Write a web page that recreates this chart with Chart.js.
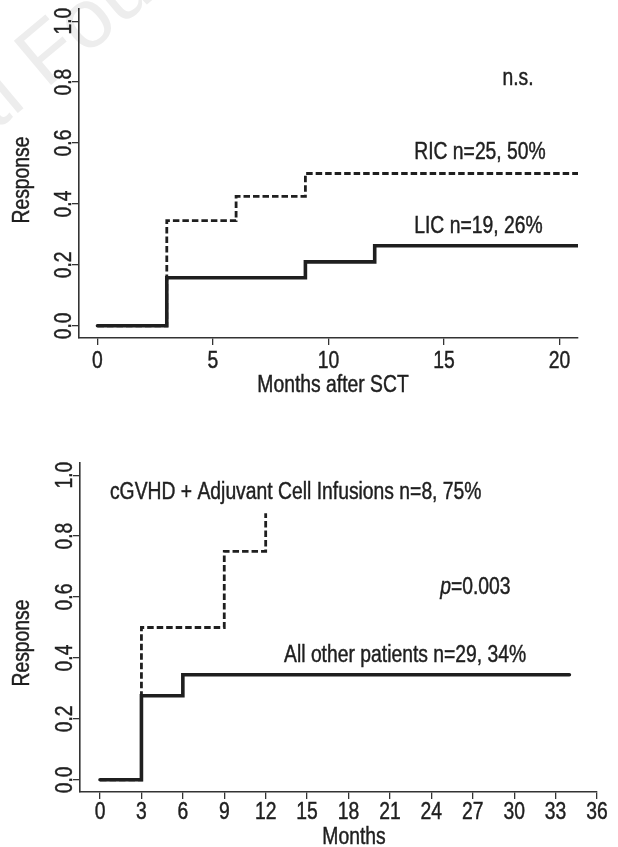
<!DOCTYPE html>
<html>
<head>
<meta charset="utf-8">
<script src="https://cdn.jsdelivr.net/npm/chart.js@4.4.0/dist/chart.umd.min.js"></script>
<style>
  html, body { margin: 0; padding: 0; background: #fff; }
  body { width: 618px; height: 847px; position: relative; overflow: hidden; }
  canvas { position: absolute; left: 0; }
</style>
</head>
<body>
<canvas id="c1" width="618" height="410" style="top:0"></canvas>
<canvas id="c2" width="618" height="437" style="top:410px"></canvas>
<script>
// ---------- data: top panel (Months after SCT) ----------
const topXTicks = [0, 5, 10, 15, 20];
const licMonths = [0, 3, 9, 12, 20.8];
const licResponse = [0, 0.158, 0.21, 0.263, 0.263];
const ricMonths = [0, 3, 6, 9, 20.8];
const ricResponse = [0, 0.345, 0.425, 0.5, 0.5];

// ---------- data: bottom panel (Months) ----------
const botXTicks = [0, 3, 6, 9, 12, 15, 18, 21, 24, 27, 30, 33, 36];
const otherMonths = [0, 3, 6, 34];
const otherResponse = [0, 0.276, 0.345, 0.345];
const cgvhdMonths = [0, 3, 9, 12];
const cgvhdResponse = [0, 0.5, 0.75, 0.875];

// ---------- shared y ticks ----------
const yTicks = [0, 0.2, 0.4, 0.6, 0.8, 1.0];
const yTickLabels = ['0.0', '0.2', '0.4', '0.6', '0.8', '1.0'];

const FONT = "'Liberation Sans', Arial, sans-serif";
const SX = 0.84;          // horizontal condensing of the sans font
const INK = '#1f1f1f';
const AXIS = '#333333';

function pts(xs, ys) { return xs.map((x, i) => ({ x: x, y: ys[i] })); }

// draw condensed text; returns advance width
function ctext(ctx, str, x, y, size, align, italic, rot) {
  ctx.save();
  ctx.font = (italic ? 'italic ' : '') + size + 'px ' + FONT;
  const w = ctx.measureText(str).width * SX;
  ctx.translate(x, y);
  if (rot) ctx.rotate(rot);
  let off = 0;
  if (align === 'center') off = -w / 2;
  else if (align === 'right') off = -w;
  ctx.translate(off, 0);
  ctx.scale(SX, 1);
  ctx.textAlign = 'left';
  ctx.textBaseline = 'alphabetic';
  ctx.fillStyle = INK;
  ctx.strokeStyle = INK;
  ctx.lineWidth = 0.45;
  ctx.fillText(str, 0, 0);
  ctx.strokeText(str, 0, 0);
  ctx.restore();
  return w;
}

const textPlugin = {
  id: 'rtext',
  beforeDraw(chart, args, o) {
    if (!o.watermark) return;
    const ctx = chart.ctx;
    ctx.save();
    const fs = 84;
    ctx.font = fs + "px 'Liberation Sans', sans-serif";
    ctx.fillStyle = '#ededed';
    const th = 40 * Math.PI / 180;
    const d = [Math.cos(th), -Math.sin(th)], u = [-Math.sin(th), -Math.cos(th)];
    const wp = ctx.measureText('Storti ').width, wF = ctx.measureText('F').width;
    const capH = 0.716 * fs;
    const cx = 46, cy = 50;
    const ox = cx - (wp + wF / 2) * d[0] - (capH / 2) * u[0];
    const oy = cy - (wp + wF / 2) * d[1] - (capH / 2) * u[1];
    ctx.translate(ox, oy);
    ctx.rotate(-th);
    ctx.fillText('Storti Foundation', 0, 0);
    ctx.restore();
  },
  afterDraw(chart, args, o) {
    const ctx = chart.ctx;
    const xs = chart.scales.x, ys = chart.scales.y;
    const ca = chart.chartArea;
    ctx.save();
    // x tick labels
    o.xTicks.forEach(v => ctext(ctx, String(v), xs.getPixelForValue(v), ca.bottom + o.xLabelGap, o.tickFont, 'center'));
    // y tick labels (rotated)
    yTicks.forEach((v, i) => ctext(ctx, yTickLabels[i], ca.left - 8, ys.getPixelForValue(v), o.tickFont, 'center', false, -Math.PI / 2));
    // axis titles
    ctext(ctx, o.xTitle, o.xTitleX, ca.bottom + o.xTitleGap, o.textFont, 'center');
    ctext(ctx, 'Response', 29, o.yTitleY, o.textFont, 'center', false, -Math.PI / 2);
    // annotations
    o.notes.forEach(n => {
      let x = xs.getPixelForValue(n.x);
      const y = ys.getPixelForValue(n.y);
      n.parts.forEach(p => { x += ctext(ctx, p.t, x, y, o.textFont, 'left', p.italic); });
    });
    ctx.restore();
  }
};

function lineDs(data, dashed) {
  return {
    data: data,
    stepped: 'before',
    borderColor: INK,
    borderWidth: dashed ? 2.8 : 3.6,
    borderDash: dashed ? [6.5, 3] : [],
    borderCapStyle: dashed ? 'butt' : 'round',
    borderJoinStyle: 'miter',
    pointRadius: 0,
    fill: false,
    tension: 0
  };
}

function makeChart(id, cfg) {
  return new Chart(document.getElementById(id), {
    type: 'line',
    data: { datasets: cfg.datasets },
    plugins: [textPlugin],
    options: {
      responsive: false,
      animation: false,
      devicePixelRatio: 1,
      layout: { padding: cfg.padding },
      plugins: {
        legend: { display: false },
        tooltip: { enabled: false },
        rtext: cfg.text
      },
      scales: {
        x: {
          type: 'linear',
          min: cfg.xMin, max: cfg.xMax,
          afterBuildTicks: s => { s.ticks = cfg.text.xTicks.map(v => ({ value: v })); },
          afterFit: s => { s.height = cfg.xHeight; },
          ticks: { display: false },
          grid: { display: true, drawOnChartArea: false, drawTicks: true, tickLength: 7, color: AXIS, lineWidth: 1.3 },
          border: { display: true, color: AXIS, width: 1.6 }
        },
        y: {
          type: 'linear',
          min: -0.04, max: 1.04,
          afterBuildTicks: s => { s.ticks = yTicks.map(v => ({ value: v })); },
          afterFit: s => { s.width = cfg.yWidth; },
          ticks: { display: false },
          grid: { display: true, drawOnChartArea: false, drawTicks: true, tickLength: 7, color: AXIS, lineWidth: 1.3 },
          border: { display: true, color: AXIS, width: 1.6 }
        }
      }
    }
  });
}

makeChart('c1', {
  datasets: [lineDs(pts(licMonths, licResponse), false), lineDs(pts(ricMonths, ricResponse), true)],
  padding: { left: 0, right: 40, top: 9, bottom: 0 },
  xMin: -0.8, xMax: 20.8,
  xHeight: 72, yWidth: 79,
  text: {
    watermark: true,
    xTicks: topXTicks,
    tickFont: 23, textFont: 23,
    xLabelGap: 30, xTitleGap: 54, xTitle: 'Months after SCT', xTitleX: 333, yTitleY: 180,
    notes: [
      { x: 17.53, y: 0.79, parts: [{ t: 'n.s.' }] },
      { x: 13.71, y: 0.548, parts: [{ t: 'RIC n=25, 50%' }] },
      { x: 13.71, y: 0.305, parts: [{ t: 'LIC n=19, 26%' }] }
    ]
  }
});

makeChart('c2', {
  datasets: [lineDs(pts(otherMonths, otherResponse), false), lineDs(pts(cgvhdMonths, cgvhdResponse), true)],
  padding: { left: 0, right: 21, top: 53, bottom: 0 },
  xMin: -1.45, xMax: 36,
  xHeight: 55, yWidth: 80,
  text: {
    watermark: false,
    xTicks: botXTicks,
    tickFont: 23, textFont: 23,
    xLabelGap: 27, xTitleGap: 52, xTitle: 'Months', xTitleX: 354, yTitleY: 643 - 410,
    notes: [
      { x: 0.72, y: 0.921, parts: [{ t: 'cGVHD + Adjuvant Cell Infusions n=8, 75%' }] },
      { x: 24.64, y: 0.61, parts: [{ t: 'p', italic: true }, { t: '=0.003' }] },
      { x: 13.33, y: 0.387, parts: [{ t: 'All other patients n=29, 34%' }] }
    ]
  }
});
</script>
</body>
</html>
